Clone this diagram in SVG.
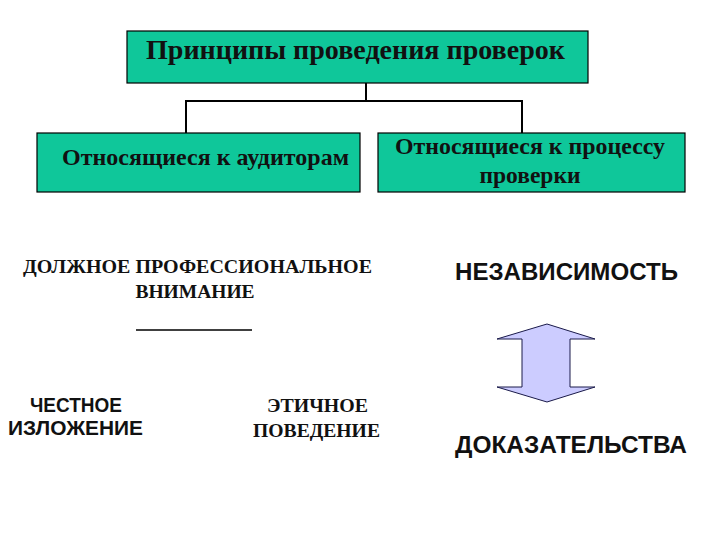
<svg xmlns="http://www.w3.org/2000/svg" width="720" height="540" viewBox="0 0 720 540">
<style>
.box{fill:#0fc79a;stroke:#000;stroke-width:1.2}
.serif{font-family:"Liberation Serif","Times New Roman",serif;font-weight:bold;fill:#111}
.sans{font-family:"Liberation Sans",Arial,sans-serif;font-weight:bold;fill:#111}
.conn{stroke:#000;stroke-width:2;fill:none}
</style>
<rect width="720" height="540" fill="#fff"/>
<g id="connectors">
<path class="conn" d="M366 83 V101 M186 101 H522 M186 100 V133 M522 100 V133"/>
<line x1="136" y1="330" x2="252" y2="330" stroke="#000" stroke-width="1.5"/>
</g>
<g id="top">
<rect class="box" x="127" y="31" width="461" height="52"/>
<text class="serif" x="146" y="59" font-size="27" textLength="419" lengthAdjust="spacingAndGlyphs">Принципы проведения проверок</text>
</g>
<g id="auditors">
<rect class="box" x="37" y="133" width="323" height="59"/>
<text class="serif" x="62" y="165" font-size="23.5" textLength="287" lengthAdjust="spacingAndGlyphs">Относящиеся к аудиторам</text>
</g>
<g id="process">
<rect class="box" x="378" y="133" width="307" height="59"/>
<text class="serif" x="395" y="154" font-size="23.5" textLength="270" lengthAdjust="spacingAndGlyphs">Относящиеся к процессу</text>
<text class="serif" x="530" y="183" font-size="23.5" text-anchor="middle">проверки</text>
</g>
<g id="due-care">
<text class="serif" x="23" y="273" font-size="19.5" textLength="349" lengthAdjust="spacingAndGlyphs">ДОЛЖНОЕ ПРОФЕССИОНАЛЬНОЕ</text>
<text class="serif" x="195" y="298" font-size="19.5" text-anchor="middle">ВНИМАНИЕ</text>
</g>
<g id="honest">
<text class="sans" x="30" y="412" font-size="20" textLength="92" lengthAdjust="spacingAndGlyphs">ЧЕСТНОЕ</text>
<text class="sans" x="8" y="435" font-size="20" textLength="135" lengthAdjust="spacingAndGlyphs">ИЗЛОЖЕНИЕ</text>
</g>
<g id="ethical">
<text class="serif" x="267" y="412" font-size="19.5" textLength="101" lengthAdjust="spacingAndGlyphs">ЭТИЧНОЕ</text>
<text class="serif" x="253" y="437" font-size="19.5" textLength="127" lengthAdjust="spacingAndGlyphs">ПОВЕДЕНИЕ</text>
</g>
<g id="independence">
<text class="sans" x="455" y="280" font-size="23" textLength="223" lengthAdjust="spacingAndGlyphs">НЕЗАВИСИМОСТЬ</text>
</g>
<g id="arrow">
<polygon points="547,324 595,339 570,339 570,387 595,387 547,402 497,387 522,387 522,339 497,339" fill="#ccccff" stroke="#1a1a4a" stroke-width="1"/>
</g>
<g id="evidence">
<text class="sans" x="455" y="453" font-size="23.5" textLength="232" lengthAdjust="spacingAndGlyphs">ДОКАЗАТЕЛЬСТВА</text>
</g>
</svg>
